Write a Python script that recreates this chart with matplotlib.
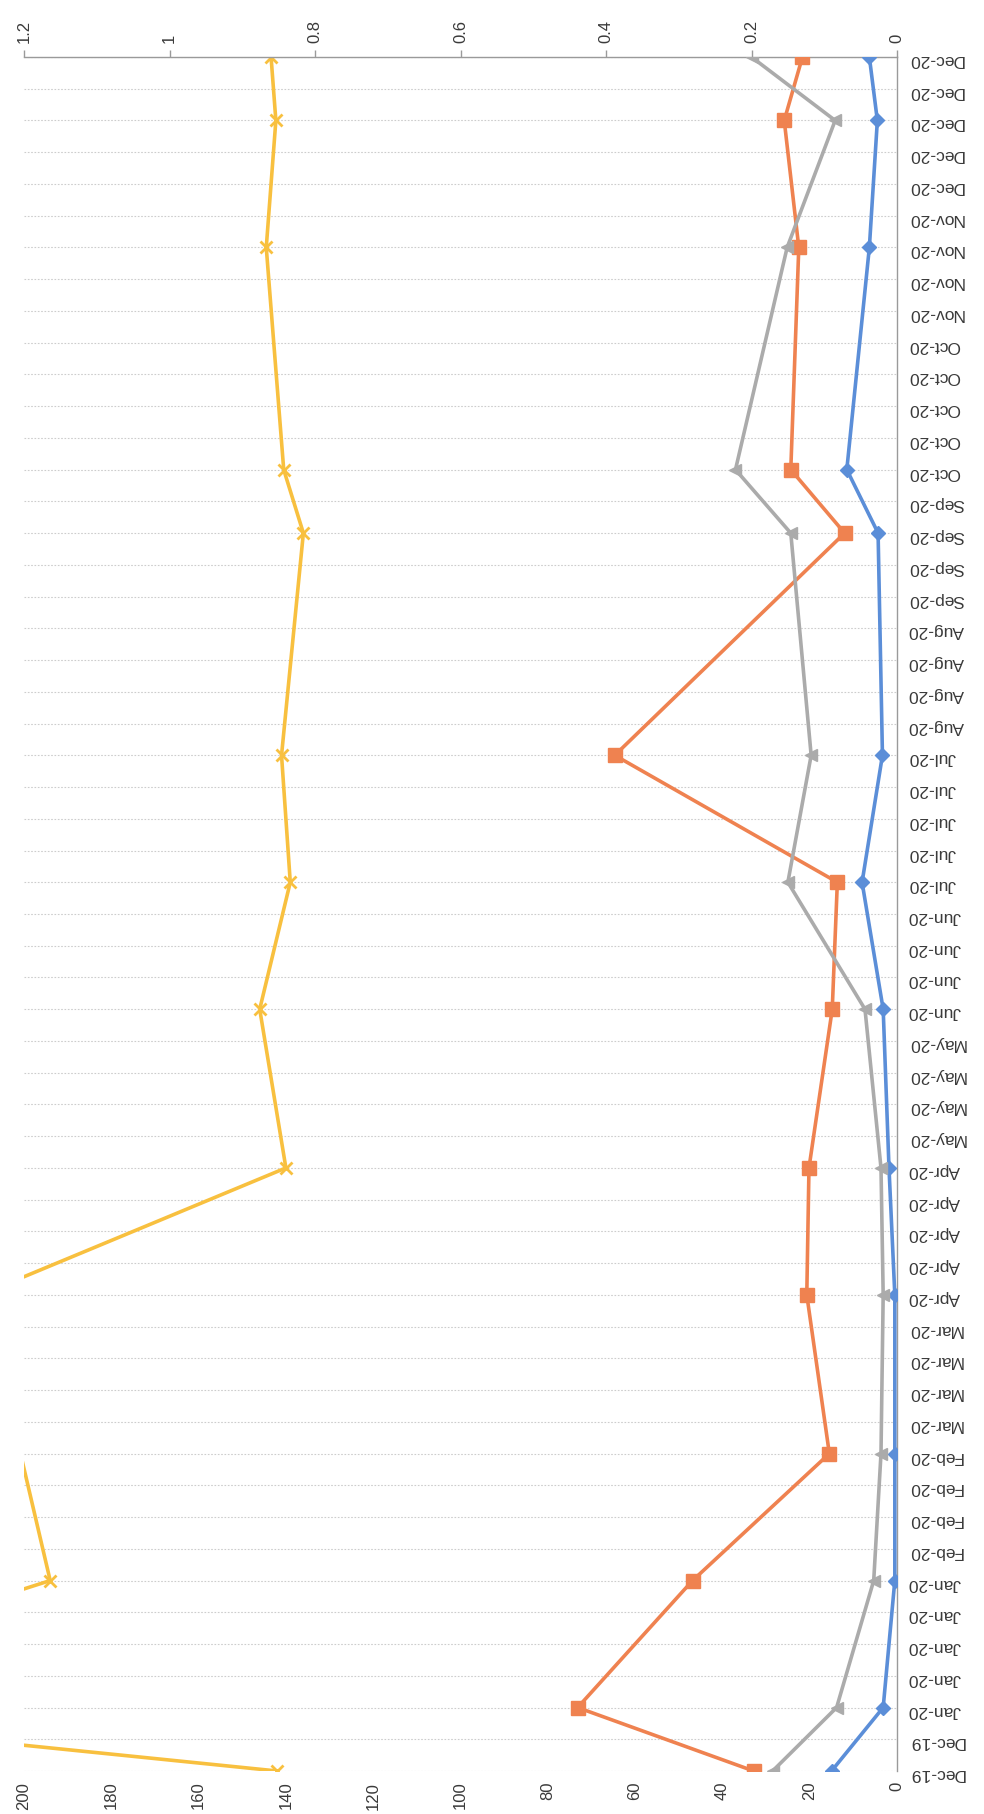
import numpy as np
import matplotlib.pyplot as plt

plt.rcParams['font.family'] = ['Liberation Sans', 'DejaVu Sans']

# weekly category labels (Thursdays, 19 Dec 2019 .. 31 Dec 2020)
months = ['Dec-19', 'Jan-20', 'Feb-20', 'Mar-20', 'Apr-20', 'May-20', 'Jun-20',
          'Jul-20', 'Aug-20', 'Sep-20', 'Oct-20', 'Nov-20', 'Dec-20']
weeks_per_month = [2, 5, 4, 4, 5, 4, 4, 5, 4, 4, 5, 4, 5]
week_labels = [m for m, n in zip(months, weeks_per_month) for _ in range(n)]

# weeks that hold data (other weeks empty, lines connect across them)
point_idx = [0, 2, 6, 10, 15, 19, 24, 28, 32, 39, 41, 48, 52, 54]

# secondary axis series (0 - 1.2)
blue = [0.090, 0.019, 0.003, 0.003, 0.003, 0.011, 0.019, 0.048, 0.020,
        0.026, 0.069, 0.038, 0.027, 0.038]
orange = [0.197, 0.439, 0.281, 0.093, 0.124, 0.121, 0.089, 0.082, 0.388,
          0.072, 0.146, 0.135, 0.155, 0.130]
grey = [0.171, 0.083, 0.032, 0.022, 0.019, 0.022, 0.044, 0.150, 0.118,
        0.146, 0.222, 0.151, 0.085, 0.200]
# primary axis series (0 - 200), goes off the chart in early 2020
yellow = [142, 285, 194, 200.8, 210, 140, 146, 139, 141, 136, 140.5, 144.5,
          142.3, 143.4]

prim_ticks = list(range(0, 201, 20))
sec_ticks = [0, 0.2, 0.4, 0.6, 0.8, 1.0, 1.2]
sec_labels = ['0', '0.2', '0.4', '0.6', '0.8', '1', '1.2']

txt = '#3a3a3a'
axc = '#9a9a9a'

fig = plt.figure(figsize=(9.84, 18.15), dpi=100)
L, R, T, B = 24, 897, 58, 1772
ax = fig.add_axes([L / 984, (1815 - B) / 1815, (R - L) / 984, (B - T) / 1815])

ax.set_xlim(200, 0)
ax.set_ylim(0, len(week_labels) - 1)
ax.set_xticks(prim_ticks)
ax.set_xticklabels([str(t) for t in prim_ticks], rotation=90, fontsize=12, color=txt)
ax.tick_params(axis='x', length=0, pad=7)

ax.yaxis.tick_right()
ax.set_yticks(range(len(week_labels)))
ax.set_yticklabels(week_labels, rotation=180, fontsize=12.5, color=txt)
ax.tick_params(axis='y', length=0, pad=8)
ax.grid(axis='y', color='#cdcdcd', linewidth=0.8, linestyle=(0, (1.5, 1.5)))
ax.set_axisbelow(True)

for s in ['left', 'top', 'bottom']:
    ax.spines[s].set_visible(False)
ax.spines['right'].set_color(axc)
ax.spines['right'].set_linewidth(1.0)

# line runs off the plot where values pass 200; markers only where in range
ax.plot(yellow, point_idx, color='#F8C03F', lw=2.6, zorder=3)
yv = np.array(yellow)
yi = np.array(point_idx)
inside = yv <= 200
ax.plot(yv[inside], yi[inside], ls='none', color='#F8C03F', marker='x', ms=9,
        mew=2.0, zorder=3)

ax2 = ax.twiny()
ax2.set_xlim(1.2, 0)
ax2.set_xticks(sec_ticks)
ax2.set_xticklabels(sec_labels, rotation=90, fontsize=12, color=txt)
ax2.tick_params(axis='x', direction='out', length=5, width=1.0, color=axc, pad=6)
for s in ['left', 'right', 'bottom']:
    ax2.spines[s].set_visible(False)
ax2.spines['top'].set_color(axc)
ax2.spines['top'].set_linewidth(1.0)

ax2.plot(blue, point_idx, color='#5B8ED8', lw=2.6, marker='D', ms=7, zorder=4)
ax2.plot(orange, point_idx, color='#EF8250', lw=2.6, marker='s', ms=9.5, zorder=4)
ax2.plot(grey, point_idx, color='#ABABAB', lw=2.6, marker='<', ms=9, zorder=4)

fig.savefig('out.png', dpi=100)
